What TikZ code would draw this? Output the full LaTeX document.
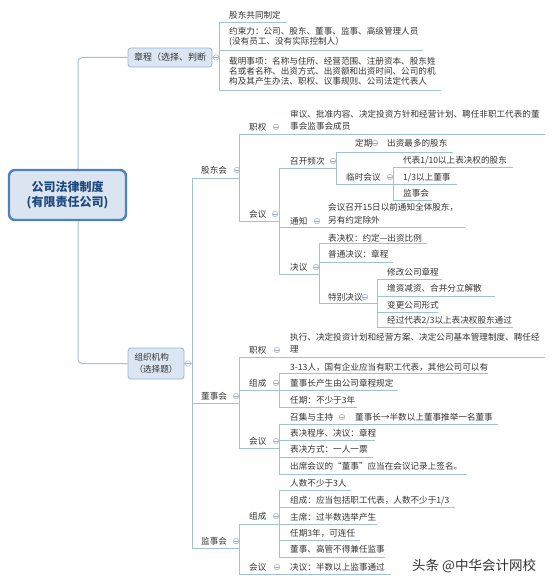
\documentclass[tikz,border=0pt]{standalone}
\usepackage{fontspec}
\newfontfamily\cjk{Noto Sans CJK SC}
\usetikzlibrary{backgrounds}
\definecolor{lnc}{HTML}{A4BFDA}
\definecolor{txt}{HTML}{333333}
\definecolor{cgray}{HTML}{9AAABF}
\definecolor{boxfill}{HTML}{DCE6F2}
\definecolor{boxdraw}{HTML}{95B3D7}
\definecolor{mainfill}{HTML}{DBE5F1}
\definecolor{maindraw}{HTML}{4F81BD}
\definecolor{maintext}{HTML}{1F497D}
\newcommand\hln[3]{\draw[ln] (#2,#1) -- (#3,#1);}
\newcommand\vln[3]{\draw[ln] (#1,#2) -- (#1,#3);}
\begin{document}
\begin{tikzpicture}[x=1pt,y=-1pt,
  ln/.style={draw=lnc,line width=1pt},
  t/.style={anchor=north west,inner sep=0pt,yshift=4.5pt,text=txt,align=left,
    font=\cjk\fontsize{8.6pt}{11.7pt}\selectfont,execute at begin node={\rule{0pt}{7.8pt}}},
  tten/.style={t,font=\cjk\fontsize{8.6pt}{10pt}\selectfont},
  twide/.style={t,font=\cjk\fontsize{8.6pt}{13.3pt}\selectfont},
  col/.style={circle,draw=cgray,fill=white,line width=0.5pt,minimum size=5.5pt,inner sep=0pt,
    path picture={\draw[cgray,line width=0.5pt] ([xshift=-1.6pt]path picture bounding box.center) -- ([xshift=1.6pt]path picture bounding box.center);}},
  subbox/.style={draw=boxdraw,fill=boxfill,line width=0.8pt,rounded corners=3pt,inner sep=0pt,text=txt},
  mainbox/.style={draw=maindraw,fill=mainfill,line width=2.4pt,rounded corners=6pt,inner sep=0pt,
    minimum width=117pt,minimum height=50pt,align=center,text=maintext,
    font=\cjk\bfseries\fontsize{12pt}{15pt}\selectfont}
]
\useasboundingbox (0,0) rectangle (553,583);

% top-level boxes
\node[subbox,minimum width=84pt,minimum height=19pt,font=\cjk\fontsize{9pt}{11pt}\selectfont] (zc) at (170,57.5) {章程（选择、判断};
\node[subbox,minimum width=56pt,minimum height=31pt,align=left,font=\cjk\fontsize{8.6pt}{12pt}\selectfont] (zz) at (156,363.5) {组织机构\\（选择题）};
\coordinate (trunk) at (78,195);

\begin{scope}[on background layer]
\draw[ln,rounded corners=4pt] (zc.west) -| (trunk) |- (zz.west);
\draw[ln] (zc.east) -- (219,57.5);
\draw[ln] (zz.east) -- (192,363.5);
% zhangcheng
\vln{219}{23}{91}
\hln{23}{219}{287}
\hln{51}{219}{423}
\hln{91}{219}{441}
% zuzhi bracket
\vln{192}{178}{548}
% gudonghui
\hln{178}{192}{239}
\vln{239}{134}{221}
\hln{134}{239}{545}
\hln{221}{239}{279}
\vln{279}{168}{274}
\hln{168}{279}{336}
\vln{336}{152}{184}
\hln{152}{336}{453}
\hln{184}{336}{457}
\vln{393}{167}{200}
\hln{167}{393}{513}
\hln{200}{393}{432}
\hln{227}{279}{465}
\hln{274}{279}{319}
\vln{319}{243}{303}
\hln{243}{319}{427}
\hln{262}{319}{393}
\hln{303}{319}{377}
\vln{377}{279}{327}
\hln{279}{377}{442}
\hln{296}{377}{495}
\hln{312}{377}{438}
\hln{327}{377}{513}
% dongshihui
\hln{403}{192}{239}
\vln{239}{357}{448}
\hln{357}{239}{545}
\hln{390.5}{239}{398}
\vln{279}{373}{407}
\hln{373}{279}{488}
\hln{407}{279}{357}
\hln{448}{239}{279}
\vln{279}{424}{474}
\hln{424}{279}{498}
\hln{440}{279}{375}
\hln{457}{279}{373}
\hln{474}{279}{467}
% jianshihui
\hln{548}{192}{239}
\vln{239}{524}{574}
\hln{524}{239}{377}
\vln{279}{490}{557}
\hln{490}{279}{351}
\hln{507}{279}{455}
\hln{540}{279}{360}
\hln{557}{279}{385}
\hln{574}{239}{391}
\end{scope}

\node[mainbox] (main) at (67.5,195) {公司法律制度\\(有限责任公司)};

% collapse circles
\node[col] (c1) at (216,57.5) {};
\node[col] (c2) at (188,363.5) {};
\node[col] (c3) at (237,170) {};
\node[col] (c4) at (276,127) {};
\node[col] (c5) at (275,214) {};
\node[col] (c6) at (333,161) {};
\node[col] (c7) at (375,143) {};
\node[col] (c8) at (390,177) {};
\node[col] (c9) at (317,221) {};
\node[col] (c10) at (316,267) {};
\node[col] (c11) at (365,297) {};
\node[col] (c12) at (236,396) {};
\node[col] (c13) at (277,350) {};
\node[col] (c14) at (276,383) {};
\node[col] (c15) at (276,441) {};
\node[col] (c16) at (342,417) {};
\node[col] (c17) at (236,541) {};
\node[col] (c18) at (276,516) {};
\node[col] (c19) at (277,567) {};

% zhangcheng children
\node[t] (a1) at (229,15) {股东共同制定};
\node[tten] (a2) at (229,32) {约束力：公司、股东、董事、监事、高级管理人员\\(没有员工、没有实际控制人）};
\node[tten] (a3) at (229,62) {载明事项：名称与住所、经营范围、注册资本、股东姓\\名或者名称、出资方式、出资额和出资时间、公司的机\\构及其产生办法、职权、议事规则、公司法定代表人};

% gudonghui
\node[t] (g) at (201,170) {股东会};
\node[t] (g1) at (249,127) {职权};
\node[t] (g1a) at (290,115) {审议、批准内容、决定投资方针和经营计划、聘任非职工代表的董\\事会监事会成员};
\node[t] (g2) at (249,214) {会议};
\node[t] (g21) at (290,161) {召开频次};
\node[t] (g211) at (355,143) {定期};
\node[t] (g211a) at (387,143) {出资最多的股东};
\node[t] (g212) at (346,177) {临时会议};
\node[t] (g212a) at (403,160) {代表1/10以上表决权的股东};
\node[t] (g212b) at (403,177) {1/3以上董事};
\node[t] (g212c) at (403,193) {监事会};
\node[t] (g22) at (290,221) {通知};
\node[twide] (g22a) at (328,207) {会议召开15日以前通知全体股东，\\另有约定除外};
\node[t] (g23) at (290,267) {决议};
\node[t] (g231) at (328,238) {表决权：约定—出资比例};
\node[t] (g232) at (328,254) {普通决议：章程};
\node[t] (g233) at (328,297) {特别决议};
\node[t] (g233a) at (387,272) {修改公司章程};
\node[t] (g233b) at (387,288) {增资减资、合并分立解散};
\node[t] (g233c) at (387,305) {变更公司形式};
\node[t] (g233d) at (387,320) {经过代表2/3以上表决权股东通过};

% dongshihui
\node[t] (d) at (201,396) {董事会};
\node[t] (d1) at (249,350) {职权};
\node[t] (d1a) at (290,338) {执行、决定投资计划和经营方案、决定公司基本管理制度、聘任经\\理};
\node[t] (d2) at (249,383) {组成};
\node[t] (d2a) at (290,367) {3-13人，国有企业应当有职工代表，其他公司可以有};
\node[t] (d2b) at (290,383) {董事长产生由公司章程规定};
\node[t] (d2c) at (290,400) {任期：不少于3年};
\node[t] (d3) at (249,441) {会议};
\node[t] (d31) at (290,417) {召集与主持};
\node[t] (d31a) at (355,417) {董事长→半数以上董事推举一名董事};
\node[t] (d32) at (290,433) {表决程序、决议：章程};
\node[t] (d33) at (290,449) {表决方式：一人一票};
\node[t] (d34) at (290,466) {出席会议的“董事”应当在会议记录上签名。};

% jianshihui
\node[t] (j) at (201,541) {监事会};
\node[t] (j1) at (249,516) {组成};
\node[t] (j1a) at (290,483) {人数不少于3人};
\node[t] (j1b) at (290,500) {组成：应当包括职工代表，人数不少于1/3};
\node[t] (j1c) at (290,517) {主席：过半数选举产生};
\node[t] (j1d) at (290,533) {任期3年，可连任};
\node[t] (j1e) at (290,549) {董事、高管不得兼任监事};
\node[t] (j2) at (249,567) {会议};
\node[t] (j2a) at (290,567) {决议：半数以上监事通过};

% watermark
\node[anchor=west,inner sep=0pt,text=txt,font=\cjk\fontsize{13.5pt}{15pt}\selectfont] (wm) at (412,566) {头条 @中华会计网校};
\end{tikzpicture}
\end{document}
